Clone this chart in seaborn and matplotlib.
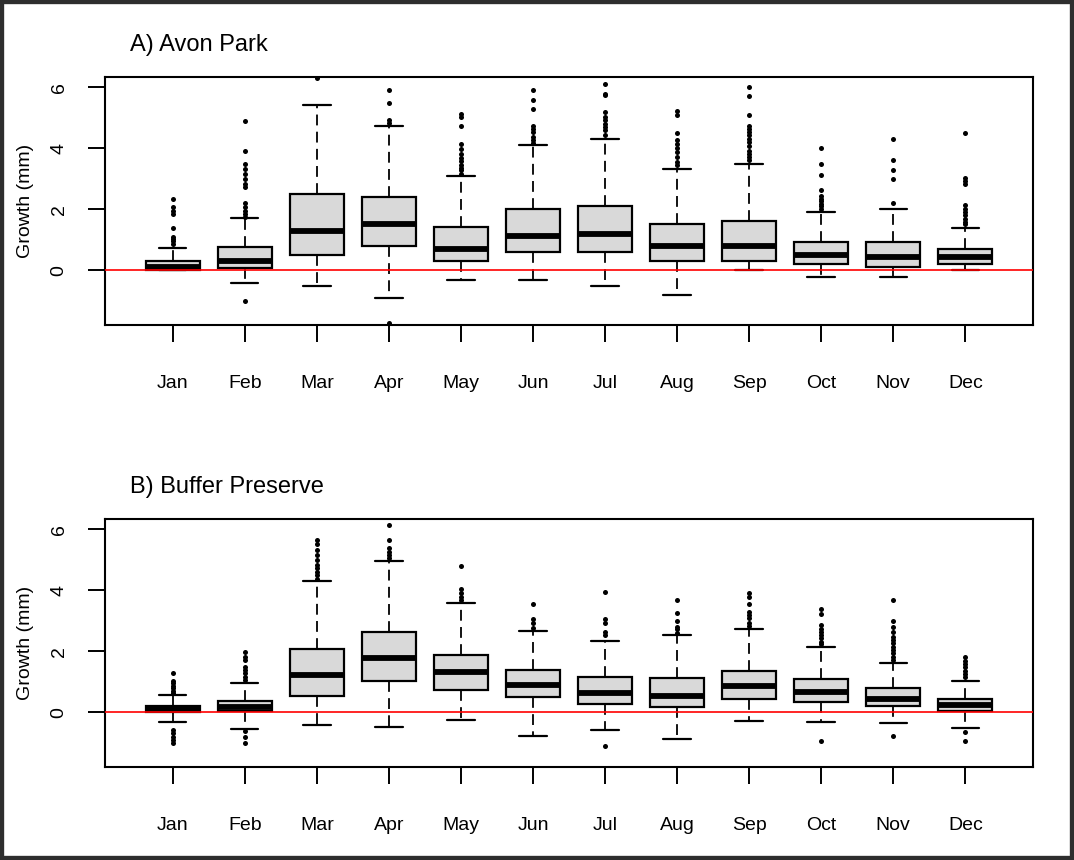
import numpy as np
import pandas as pd
import seaborn as sns
import matplotlib.pyplot as plt
from matplotlib.patches import Rectangle

# month labels
months = ['Jan', 'Feb', 'Mar', 'Apr', 'May', 'Jun', 'Jul', 'Aug', 'Sep', 'Oct', 'Nov', 'Dec']

# A) Avon Park - box stats
avon_lo = [0.00, -0.42, -0.51, -0.92, -0.32, -0.32, -0.51, -0.81, 0.00, -0.22, -0.22, 0.00]
avon_q1 = [0.02, 0.09, 0.49, 0.79, 0.30, 0.59, 0.59, 0.30, 0.30, 0.20, 0.10, 0.20]
avon_med = [0.10, 0.30, 1.29, 1.51, 0.71, 1.13, 1.20, 0.79, 0.79, 0.51, 0.42, 0.42]
avon_q3 = [0.30, 0.77, 2.51, 2.40, 1.42, 2.01, 2.11, 1.51, 1.61, 0.92, 0.92, 0.70]
avon_hi = [0.72, 1.72, 5.44, 4.72, 3.09, 4.10, 4.31, 3.32, 3.50, 1.90, 2.01, 1.39]
avon_out = [
    [0.85, 0.95, 1.02, 1.10, 1.39, 1.84, 1.95, 2.08, 2.33],
    [-1.00, 1.75, 1.84, 1.95, 2.08, 2.20, 2.73, 2.84, 3.00, 3.17, 3.33, 3.50, 3.91, 4.90],
    [6.30],
    [-1.72, 4.83, 4.94, 5.49, 5.92],
    [3.17, 3.28, 3.37, 3.44, 3.60, 3.69, 3.83, 3.99, 4.13, 4.72, 5.03, 5.14],
    [4.17, 4.26, 4.37, 4.54, 4.64, 4.72, 5.28, 5.60, 5.92],
    [4.43, 4.59, 4.70, 4.81, 4.92, 5.03, 5.19, 5.74, 5.79, 6.12],
    [3.44, 3.55, 3.72, 3.88, 4.02, 4.15, 4.26, 4.51, 5.11, 5.22],
    [3.61, 3.72, 3.83, 3.93, 4.07, 4.21, 4.32, 4.43, 4.54, 4.64, 4.75, 5.11, 5.72, 6.03],
    [2.01, 2.10, 2.19, 2.27, 2.35, 2.43, 2.62, 3.11, 3.50, 4.01],
    [2.20, 2.99, 3.30, 3.61, 4.31],
    [1.51, 1.58, 1.69, 1.80, 1.91, 2.02, 2.13, 2.82, 2.93, 3.04, 4.51],
]

# B) Buffer Preserve
buf_lo = [-0.33, -0.54, -0.42, -0.47, -0.25, -0.77, -0.57, -0.89, -0.27, -0.31, -0.35, -0.51]
buf_q1 = [0.00, 0.03, 0.54, 1.03, 0.74, 0.49, 0.26, 0.17, 0.42, 0.34, 0.19, 0.05]
buf_med = [0.10, 0.16, 1.23, 1.78, 1.32, 0.91, 0.64, 0.54, 0.86, 0.68, 0.43, 0.24]
buf_q3 = [0.21, 0.38, 2.08, 2.62, 1.89, 1.39, 1.16, 1.13, 1.37, 1.09, 0.79, 0.44]
buf_hi = [0.57, 0.95, 4.30, 4.96, 3.60, 2.68, 2.34, 2.55, 2.73, 2.14, 1.63, 1.02]
buf_out = [
    [-1.02, -0.91, -0.80, -0.69, -0.58, 0.64, 0.71, 0.79, 0.87, 0.95, 1.03, 1.30],
    [-1.02, -0.80, -0.63, 1.06, 1.17, 1.28, 1.39, 1.50, 1.72, 1.83, 1.97],
    [4.39, 4.50, 4.61, 4.72, 4.83, 4.99, 5.16, 5.32, 5.54, 5.65],
    [5.05, 5.16, 5.27, 5.38, 5.65, 6.16],
    [3.70, 3.79, 3.90, 4.04, 4.80],
    [2.78, 2.92, 3.06, 3.56],
    [-1.10, 2.54, 2.64, 2.92, 3.06, 3.95],
    [2.61, 2.72, 2.81, 2.99, 3.27, 3.67],
    [2.83, 2.94, 3.08, 3.19, 3.30, 3.57, 3.79, 3.90],
    [-0.95, 2.24, 2.32, 2.43, 2.54, 2.64, 2.75, 2.86, 3.22, 3.38],
    [-0.79, 1.72, 1.83, 1.93, 2.04, 2.15, 2.26, 2.37, 2.48, 2.64, 2.81, 2.99, 3.70],
    [-0.93, -0.66, 1.15, 1.26, 1.37, 1.48, 1.58, 1.69, 1.80],
]

sns.set_style("white")
plt.rcParams['font.family'] = ['Liberation Sans', 'DejaVu Sans']
plt.rcParams['text.color'] = 'black'
plt.rcParams['xtick.color'] = 'black'
plt.rcParams['ytick.color'] = 'black'

fig = plt.figure(figsize=(10.74, 8.6), dpi=100)
ax_a = fig.add_axes([0.0978, 0.622, 0.864, 0.288])
ax_b = fig.add_axes([0.0978, 0.108, 0.864, 0.288])


def draw_panel(ax, lo, q1, med, q3, hi, out):
    stats = []
    for i in range(len(months)):
        stats.append(dict(whislo=lo[i], q1=q1[i], med=med[i], q3=q3[i], whishi=hi[i],
                          fliers=[], label=months[i]))
    ax.bxp(stats, positions=range(1, 13), widths=0.75, patch_artist=True, showfliers=False,
           boxprops=dict(facecolor='#d9d9d9', edgecolor='black', linewidth=1.6),
           medianprops=dict(color='black', linewidth=4.2, solid_capstyle='butt'),
           whiskerprops=dict(color='black', linewidth=1.3, linestyle=(0, (6, 3.5))),
           capprops=dict(color='black', linewidth=1.6), capwidths=0.38)
    # outlier points
    df = pd.DataFrame({'x': [i + 1 for i in range(12) for _ in out[i]],
                       'y': [v for vals in out for v in vals]})
    sns.scatterplot(data=df, x='x', y='y', ax=ax, color='black', s=13, linewidth=0, zorder=4)
    ax.axhline(0, color='red', linewidth=1.2, zorder=6)
    ax.set_xlim(0.06, 12.94)
    ax.set_ylim(-1.80, 6.33)
    ax.set_xticks(range(1, 13))
    ax.set_xticklabels(months)
    ax.set_yticks([0, 2, 4, 6])
    ax.set_xlabel('')
    ax.set_ylabel('')
    ax.tick_params(axis='x', length=12, width=1.4, pad=24, labelsize=14, direction='out',
                   bottom=True)
    ax.tick_params(axis='y', length=12, width=1.4, pad=15, labelsize=14, direction='out',
                   left=True, labelrotation=90)
    for lab in ax.get_yticklabels():
        lab.set_va('center')
    for sp in ax.spines.values():
        sp.set_visible(True)
        sp.set_color('black')
        sp.set_linewidth(1.5)


draw_panel(ax_a, avon_lo, avon_q1, avon_med, avon_q3, avon_hi, avon_out)
draw_panel(ax_b, buf_lo, buf_q1, buf_med, buf_q3, buf_hi, buf_out)

fig.text(0.121, 0.9477, 'A) Avon Park', fontsize=17, ha='left', va='center')
fig.text(0.121, 0.4337, 'B) Buffer Preserve', fontsize=17, ha='left', va='center')
fig.text(0.0233, 0.622 + 0.144, 'Growth (mm)', fontsize=14, rotation=90, ha='center', va='center')
fig.text(0.0233, 0.108 + 0.144, 'Growth (mm)', fontsize=14, rotation=90, ha='center', va='center')

# dark frame round the whole picture
fig.patches.append(Rectangle((0, 0), 1, 1, transform=fig.transFigure, fill=False,
                             edgecolor='#2e2e2e', linewidth=6))

fig.savefig('out.png', dpi=100)
